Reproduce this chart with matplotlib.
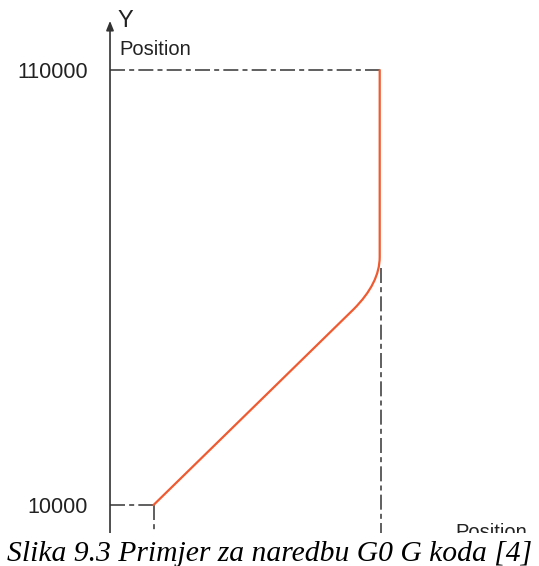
import matplotlib.pyplot as plt
from matplotlib.path import Path
from matplotlib.patches import PathPatch, Rectangle

# path of the G0 move (X position, Y position); middle point is the bend control
path_x = [10000, 56000, 62000, 62000, 62000]
path_y = [10000, 55000, 61000, 67000, 110000]

start_pos = 10000
end_y = 110000
end_x = 62000
y_ticks = [10000, 110000]
y_tick_labels = ["10000", "110000"]

caption = "Slika 9.3 Primjer za naredbu G0 G koda [4]"

plt.rcParams["font.family"] = ["Liberation Sans", "DejaVu Sans"]

fig = plt.figure(figsize=(5.39, 5.66), dpi=100)
ax = fig.add_axes([0, 0, 1, 1])
ax.set_xlim(-25290, 98620)
ax.set_ylim(-4020, 126090)

for s in ["top", "right", "bottom", "left"]:
    ax.spines[s].set_visible(False)
ax.spines["left"].set_position(("data", 0))
ax.set_xticks([])
ax.set_yticks(y_ticks)
ax.set_yticklabels(y_tick_labels)
ax.tick_params(axis="y", length=0, pad=16, labelsize=15.5, labelcolor="#222222")

# Y axis with arrow
ax.annotate("", xy=(0, 121300), xytext=(0, 2000),
            arrowprops=dict(arrowstyle="-|>,head_length=0.55,head_width=0.22",
                            color="#333333", lw=1.2, shrinkA=0, shrinkB=0))
ax.text(1700, 121300, "Y", fontsize=17, color="#222222", va="center", ha="left")
ax.text(2200, 114800, "Position", fontsize=14.5, color="#222222", va="center", ha="left")
ax.text(79300, 5900, "Position", fontsize=14.5, color="#222222", va="top", ha="left")

# dashed guide lines
dash = dict(color="#444444", lw=1.2, dashes=(9, 2.5, 3, 2.5))
ax.plot([0, end_x], [end_y, end_y], **dash)
ax.plot([end_x + 300, end_x + 300], [64500, 2000], **dash)
ax.plot([0, start_pos], [start_pos, start_pos], **dash)
ax.plot([start_pos, start_pos], [start_pos, 2000], **dash)

# motion path
codes = [Path.MOVETO, Path.LINETO, Path.CURVE3, Path.CURVE3, Path.LINETO]
move = Path(list(zip(path_x, path_y)), codes)
ax.add_patch(PathPatch(move, facecolor="none", edgecolor="#f05a30", lw=1.6,
                       capstyle="round", zorder=3))

# caption over a white band
fig.patches.append(Rectangle((0, 0), 1, 33 / 566, transform=fig.transFigure,
                             facecolor="white", edgecolor="none", zorder=1))
fig.text(0.5, 5 / 566, caption, ha="center", va="baseline", fontsize=21.3,
         family="Liberation Serif", style="italic", color="black", zorder=3)

fig.savefig("out.png", dpi=100)
